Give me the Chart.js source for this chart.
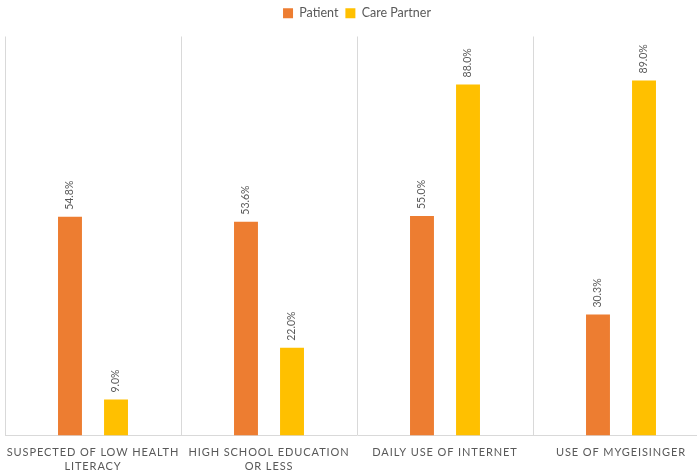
<!DOCTYPE html>
<html>
<head>
<meta charset="utf-8">
<script src="https://cdn.jsdelivr.net/npm/chart.js@4/dist/chart.umd.min.js"></script>
<style>
  html, body { margin: 0; padding: 0; background: #fff; overflow: hidden; }
  #wrap { width: 712px; height: 472px; }
</style>
</head>
<body>
<div id="wrap"><canvas id="c" width="712" height="472"></canvas></div>
<script>
// Survey measures, percent of respondents
const categories = [
  ['SUSPECTED OF LOW HEALTH', 'LITERACY'],
  ['HIGH SCHOOL EDUCATION', 'OR LESS'],
  'DAILY USE OF INTERNET',
  'USE OF MYGEISINGER'
];
const patientValues = [54.8, 53.6, 55.0, 30.3];
const carePartnerValues = [9.0, 22.0, 88.0, 89.0];
const seriesNames = ['Patient', 'Care Partner'];

const TEXT_GREY = '#595959';
const FONT = 'Lato, "Open Sans", sans-serif';

// Rotated value labels above each bar, plus spaced capitals for the axis labels
const valueLabels = {
  id: 'valueLabels',
  beforeLayout(chart) {
    // leave extra room between the legend and the plot area
    const lg = chart.legend;
    if (lg && !lg._extraGap) {
      const fit = lg.fit;
      lg.fit = function () {
        fit.call(this);
        this.height += 7;
      };
      lg._extraGap = true;
    }
  },
  afterDatasetsDraw(chart) {
    const ctx = chart.ctx;
    ctx.save();
    ctx.fillStyle = TEXT_GREY;
    ctx.font = '10.5px ' + FONT;
    ctx.textAlign = 'left';
    ctx.textBaseline = 'middle';
    chart.data.datasets.forEach((ds, di) => {
      chart.getDatasetMeta(di).data.forEach((bar, i) => {
        const txt = ds.data[i].toFixed(1) + '%';
        ctx.save();
        ctx.translate(bar.x, bar.y - 7);
        ctx.rotate(-Math.PI / 2);
        ctx.fillText(txt, 0, 0);
        ctx.restore();
      });
    });
    ctx.restore();
    ctx.letterSpacing = '0.9px';
  },
  afterDraw(chart) {
    chart.ctx.letterSpacing = '0px';
  }
};

new Chart(document.getElementById('c'), {
  type: 'bar',
  data: {
    labels: categories,
    datasets: [
      { label: seriesNames[0], data: patientValues, backgroundColor: '#ED7D31' },
      { label: seriesNames[1], data: carePartnerValues, backgroundColor: '#FFC000' }
    ]
  },
  options: {
    responsive: false,
    animation: false,
    events: [],
    layout: { padding: { left: 5, right: 3, top: 0, bottom: -11 } },
    datasets: { bar: { categoryPercentage: 0.523, barPercentage: 0.52 } },
    plugins: {
      legend: {
        position: 'top',
        labels: {
          color: TEXT_GREY,
          font: { family: FONT, size: 12.5 },
          boxWidth: 10,
          boxHeight: 10,
          padding: 7
        }
      },
      tooltip: { enabled: false }
    },
    scales: {
      x: {
        grid: {
          color: '#D9D9D9',
          drawTicks: false,
          offset: true
        },
        border: { color: '#D9D9D9' },
        ticks: {
          z: 1,
          color: TEXT_GREY,
          font: { family: FONT, size: 11, lineHeight: 1.25 },
          padding: 10,
          maxRotation: 0,
          autoSkip: false
        }
      },
      y: {
        display: false,
        min: 0,
        max: 100
      }
    }
  },
  plugins: [valueLabels]
});
</script>
</body>
</html>
